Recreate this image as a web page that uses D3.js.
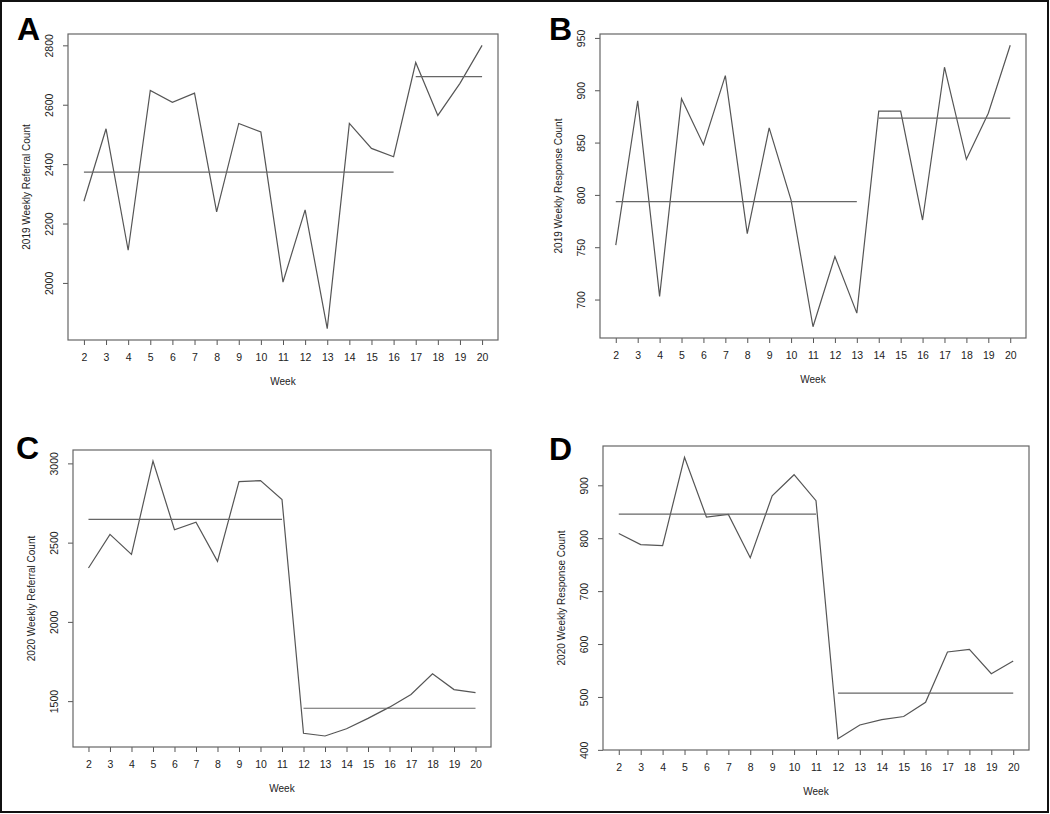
<!DOCTYPE html>
<html>
<head>
<meta charset="utf-8">
<title>Weekly Referral and Response Counts</title>
<script src="https://d3js.org/d3.v7.min.js"></script>
<style>
  body { margin: 0; background: #fff; }
  svg { display: block; font-family: "Liberation Sans", Arial, Helvetica, sans-serif; }
  .tick text { font-size: 10.5px; fill: #222; }
  .tick line { stroke: #555; }
  .title { font-size: 10px; fill: #222; }
  .letter { font-size: 32px; font-weight: bold; fill: #000; }
</style>
</head>
<body>
<svg id="chart" width="1050" height="814"></svg>
<script>
// week numbers shared by every panel
var weeks = [2, 3, 4, 5, 6, 7, 8, 9, 10, 11, 12, 13, 14, 15, 16, 17, 18, 19, 20];

// weekly counts
var referral2019 = [2275, 2519, 2110, 2648, 2608, 2639, 2239, 2537, 2508, 2003, 2246, 1846, 2537, 2453, 2425, 2742, 2564, 2672, 2800];
var response2019 = [752, 890, 703, 892, 848, 914, 763, 864, 795, 674, 741, 687, 880, 880, 776, 922, 834, 878, 943];
var referral2020 = [2340, 2552, 2426, 3015, 2581, 2629, 2382, 2885, 2891, 2772, 1297, 1280, 1326, 1391, 1462, 1542, 1672, 1573, 1554];
var response2020 = [809, 788, 786, 953, 840, 845, 763, 880, 920, 871, 421, 447, 457, 463, 490, 585, 590, 544, 568];

// last week of the first segment (mean lines split here)
var splitA = 16, splitB = 13, splitC = 11, splitD = 11;

// y tick labels
var ticksA = [2000, 2200, 2400, 2600, 2800];
var ticksB = [700, 750, 800, 850, 900, 950];
var ticksC = [1500, 2000, 2500, 3000];
var ticksD = [400, 500, 600, 700, 800, 900];

var panels = [
  {letter: "A", values: referral2019, split: splitA, ticks: ticksA, label: "2019 Weekly Referral Count",
   box: {x0: 68, x1: 498, y0: 34, y1: 340}, lx: 17, ly: 40},
  {letter: "B", values: response2019, split: splitB, ticks: ticksB, label: "2019 Weekly Response Count",
   box: {x0: 600, x1: 1026, y0: 34, y1: 338}, lx: 549, ly: 40},
  {letter: "C", values: referral2020, split: splitC, ticks: ticksC, label: "2020 Weekly Referral Count",
   box: {x0: 73, x1: 491, y0: 450, y1: 747}, lx: 16, ly: 459},
  {letter: "D", values: response2020, split: splitD, ticks: ticksD, label: "2020 Weekly Response Count",
   box: {x0: 603, x1: 1029, y0: 446, y1: 750}, lx: 549, ly: 460}
];

var svg = d3.select("#chart");

//outer frame
svg.append("rect")
  .attr("x", 1).attr("y", 1)
  .attr("width", 1047).attr("height", 811)
  .attr("fill", "none")
  .attr("stroke", "#111")
  .attr("stroke-width", 2);

//R style padding of 4% around the data range
function padded(ext) {
  var d = (ext[1] - ext[0]) * 0.04;
  return [ext[0] - d, ext[1] + d];
}

panels.forEach(function(p) {
  var b = p.box;
  var x = d3.scaleLinear().domain(padded(d3.extent(weeks))).range([b.x0, b.x1]);
  var y = d3.scaleLinear().domain(padded(d3.extent(p.values))).range([b.y1, b.y0]);
  var g = svg.append("g");

  var xAxis = g.append("g")
    .attr("transform", "translate(0," + b.y1 + ")")
    .call(d3.axisBottom(x).tickValues(weeks).tickSize(5).tickPadding(9).tickFormat(d3.format("d")));
  xAxis.select(".domain").remove();

  var yAxis = g.append("g")
    .attr("transform", "translate(" + b.x0 + ",0)")
    .call(d3.axisLeft(y).tickValues(p.ticks).tickSize(5).tickFormat(d3.format("d")));
  yAxis.select(".domain").remove();
  yAxis.selectAll(".tick text")
    .attr("x", 0).attr("dy", null)
    .attr("text-anchor", "middle")
    .attr("transform", "translate(-15,0) rotate(-90)");

  g.append("rect")
    .attr("x", b.x0).attr("y", b.y0)
    .attr("width", b.x1 - b.x0).attr("height", b.y1 - b.y0)
    .attr("fill", "none")
    .attr("stroke", "#666")
    .attr("stroke-width", 1.2);

  var pts = weeks.map(function(w, i) { return [w, p.values[i]]; });
  var line = d3.line().x(function(d) { return x(d[0]); }).y(function(d) { return y(d[1]); });

  g.append("path")
    .datum(pts)
    .attr("d", line)
    .attr("fill", "none")
    .attr("stroke", "#555")
    .attr("stroke-width", 1.2);

  //segment means
  var segs = [
    pts.filter(function(d) { return d[0] <= p.split; }),
    pts.filter(function(d) { return d[0] > p.split; })
  ];
  segs.forEach(function(s) {
    var m = d3.mean(s, function(d) { return d[1]; });
    g.append("line")
      .attr("x1", x(s[0][0])).attr("x2", x(s[s.length - 1][0]))
      .attr("y1", y(m)).attr("y2", y(m))
      .attr("stroke", "#666")
      .attr("stroke-width", 1.2);
  });

  g.append("text")
    .attr("class", "title")
    .attr("x", (b.x0 + b.x1) / 2)
    .attr("y", b.y1 + 45)
    .attr("text-anchor", "middle")
    .text("Week");

  g.append("text")
    .attr("class", "title")
    .attr("text-anchor", "middle")
    .attr("transform", "translate(" + (b.x0 - 38) + "," + ((b.y0 + b.y1) / 2) + ") rotate(-90)")
    .text(p.label);

  g.append("text")
    .attr("class", "letter")
    .attr("x", p.lx).attr("y", p.ly)
    .text(p.letter);
});
</script>
</body>
</html>
